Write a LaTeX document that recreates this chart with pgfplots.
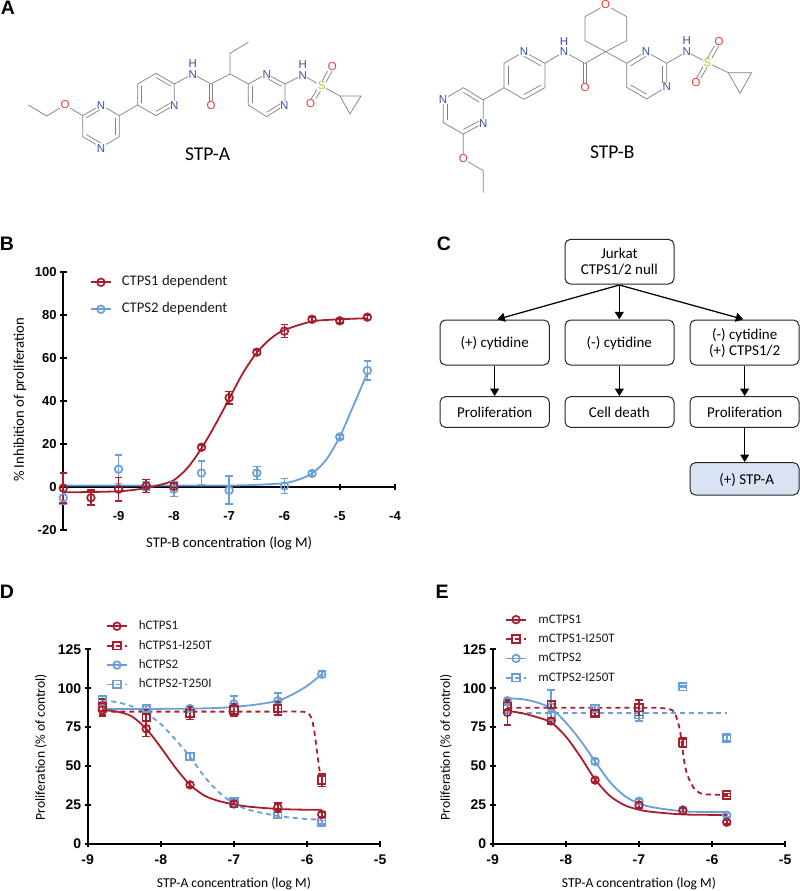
\documentclass[border=0pt]{standalone}
\usepackage{fontspec}
\setmainfont{Carlito}
\newfontfamily\arialf{Liberation Sans}
\usepackage{pgfplots}
\pgfplotsset{compat=1.18}
\usetikzlibrary{calc,arrows.meta}
\definecolor{cred}{HTML}{A81E2C}
\definecolor{cblue}{HTML}{6A9FD8}
\definecolor{bond}{HTML}{808080}
\definecolor{atomN}{HTML}{3A50A8}
\definecolor{atomO}{HTML}{F03838}
\definecolor{atomS}{HTML}{C4C030}
\definecolor{boxfill}{HTML}{DAE3F3}
\newcommand\fs[1]{\fontsize{#1}{#1}\selectfont}
\newcommand\inb[3]{\draw ($(#1)!.2!(#3)$) -- ($(#2)!.2!(#3)$);}
\newcommand\atom[3]{\node[text=#1,fill=white,inner sep=.5pt,font=\arialf\fs{11.5}] at (#2) {#3};}
\pgfplotsset{
  legend image code/.code={\draw[mark repeat=2,mark phase=2,#1] plot coordinates {(0pt,0pt) (10pt,0pt) (20pt,0pt)};},
  panel/.style={
    scale only axis, anchor=south west,
    axis line style={line width=#1, black, -},
    tick style={line width=#1, black},
    tick align=outside,
    major tick length=6pt,
    clip=false,
    /pgf/number format/assume math mode=true,
    legend cell align=left,
    ylabel style={anchor=center,rotate=0},
  },
  legbase/.style={draw=none,fill=none,anchor=north west,inner sep=0pt,
     nodes={inner sep=1pt,text=black!90,text height=10pt,text depth=3pt}},
  curve/.style={line width=1.8pt, no marks, smooth, forget plot},
  dsh/.style={dash pattern=on 5pt off 4pt},
  pts/.style={only marks, mark options={solid,line width=1.7pt,fill=none}, mark size=3.8pt, forget plot,
     error bars/.cd, y dir=both, y explicit, error bar style={line width=1.6pt}, error mark options={rotate=90,mark size=3.8pt,line width=1.6pt}},
  lc/.style={#1,line width=1.8pt,mark=o,mark size=3.8pt,mark options={solid,line width=1.7pt}},
  ls/.style={#1,line width=1.8pt,dash pattern=on 5pt off 4pt,mark=square,mark size=3.8pt,mark options={solid,line width=1.7pt}},
}
\begin{document}
\begin{tikzpicture}
\path[use as bounding box] (0pt,0pt) rectangle (800pt,-891pt);
% Panel letters
\foreach \t/\x/\y in {A/8/8,B/7/244,C/444/244,D/7/592,E/442/592}
  \node[font=\arialf\bfseries\fs{19.5}] at (\x pt,-\y pt) {\t};

%%% Structure A
\begin{scope}[x=0.33333pt,y=-0.33333pt,draw=bond,line width=.7pt]
\draw (85,315)--(140,348)--(195,315)--(248,347)--(303,315)--(358,347)--(358,410)--(303,442)--(248,410)--(248,347);
\inb{248,347}{303,315}{303,378}\inb{358,347}{358,410}{303,378}\inb{303,442}{248,410}{303,378}
\draw (358,347)--(413,315)--(413,252)--(468,220)--(523,252)--(523,315)--(468,347)--(413,315);
\inb{413,315}{413,252}{468,283}\inb{468,220}{523,252}{468,283}\inb{523,315}{468,347}{468,283}
\draw (523,252)--(578,222)--(633,252)--(690,222)--(690,160)--(745,127);
\draw (628,252)--(628,318) (638,252)--(638,318);
\draw (690,222)--(745,252)--(800,222)--(855,252)--(855,315)--(800,350)--(745,315)--(745,252);
\inb{745,315}{745,252}{800,285}\inb{800,222}{855,252}{800,285}\inb{855,315}{800,350}{800,285}
\draw (855,252)--(908,225)--(965,258)--(1020,288)--(1083,288)--(1050,342)--(1020,288);
\draw (961,253)--(992,197) (971,259)--(1002,203);
\draw (959,254)--(927,308) (969,260)--(937,314);
\atom{atomO}{195,315}{O}\atom{atomN}{303,318}{N}\atom{atomN}{303,445}{N}\atom{atomN}{523,317}{N}
\atom{atomN}{578,225}{N}\atom{atomN}{578,192}{H}\atom{atomO}{633,318}{O}
\atom{atomN}{800,223}{N}\atom{atomN}{853,318}{N}\atom{atomN}{908,226}{N}\atom{atomN}{908,193}{H}
\atom{atomS}{965,258}{S}\atom{atomO}{997,200}{O}\atom{atomO}{932,310}{O}
\node[font=\fs{19.5},text=black] at (623,462) {STP-A};
\end{scope}

%%% Structure B
\begin{scope}[xshift=400pt,x=0.33333pt,y=-0.33333pt,draw=bond,line width=.7pt]
\draw (250,578)--(250,512)--(190,477)--(190,402)--(250,370)--(250,300)--(190,263)--(130,298)--(130,368)--(190,402);
\inb{130,298}{130,368}{190,333}\inb{190,402}{250,370}{190,333}\inb{250,300}{190,263}{190,333}
\draw (250,300)--(312,263)--(312,190)--(372,155)--(435,190)--(435,263)--(372,298)--(312,263);
\inb{312,263}{312,190}{372,226}\inb{372,155}{435,190}{372,226}\inb{435,263}{372,298}{372,226}
\draw (435,190)--(492,155)--(555,190)--(617,155)--(555,122)--(555,50)--(617,15)--(680,50)--(680,122)--(617,155)--(680,190);
\draw (550,190)--(550,260) (560,190)--(560,260);
\draw (680,190)--(738,155)--(800,190)--(800,260)--(740,297)--(680,262)--(680,190);
\inb{680,190}{738,155}{740,226}\inb{800,190}{800,260}{740,226}\inb{740,297}{680,262}{740,226}
\draw (800,190)--(860,155)--(922,188)--(985,218)--(1055,218)--(1020,280)--(985,218);
\draw (917,184)--(952,122) (927,190)--(962,128);
\draw (917,186)--(883,245) (927,192)--(893,251);
\atom{atomO}{190,475}{O}\atom{atomN}{250,371}{N}\atom{atomN}{129,298}{N}\atom{atomN}{372,156}{N}
\atom{atomN}{492,155}{N}\atom{atomN}{492,125}{H}\atom{atomO}{555,262}{O}\atom{atomO}{617,15}{O}
\atom{atomN}{738,156}{N}\atom{atomN}{800,261}{N}\atom{atomN}{860,154}{N}\atom{atomN}{860,122}{H}
\atom{atomS}{922,188}{S}\atom{atomO}{957,125}{O}\atom{atomO}{888,248}{O}
\node[font=\fs{19.5},text=black] at (637,458) {STP-B};
\end{scope}

%%% Panel C flowchart
\begin{scope}[shift={(420pt,-230pt)},x=0.33333pt,y=-0.33333pt]
\tikzset{bx/.style={draw=black!85,line width=1pt,rounded corners=5.5pt},
  tx/.style={font=\fs{15},align=center,text=black},
  ar/.style={line width=1.25pt,-{Triangle[length=7.5pt,width=9pt]}}}
\draw[bx] (435,28) rectangle (762,162);
\node[tx,align=center] at (598,96) {Jurkat\\[1pt]CTPS1/2 null};
\draw[bx] (60,270) rectangle (388,405);  \node[tx] at (224,339) {(+) cytidine};
\draw[bx] (435,270) rectangle (762,405); \node[tx] at (598,339) {(-) cytidine};
\draw[bx] (810,270) rectangle (1137,405);\node[tx] at (974,339) {(-) cytidine\\[1pt](+) CTPS1/2};
\draw[bx] (60,500) rectangle (388,592);  \node[tx] at (224,547) {Proliferation};
\draw[bx] (435,500) rectangle (762,592); \node[tx] at (598,547) {Cell death};
\draw[bx] (810,500) rectangle (1137,592);\node[tx] at (974,547) {Proliferation};
\draw[bx,fill=boxfill] (810,698) rectangle (1137,795); \node[tx] at (980,749) {(+) STP-A};
\draw[ar] (598,165)--(232,268);
\draw[ar] (598,165)--(598,268);
\draw[ar] (598,165)--(970,268);
\draw[ar] (224,407)--(224,498);
\draw[ar] (598,407)--(598,498);
\draw[ar] (974,407)--(974,498);
\draw[ar] (974,594)--(974,696);
\end{scope}

%%% Panel B
\begin{axis}[panel=1.7pt, at={(63.3pt,-530pt)}, width=331.7pt, height=258pt,
  xmin=-10,xmax=-4,ymin=-20,ymax=100,
  axis x line=middle, axis y line=left, axis line style={-},
  major tick length=6.5pt,
  xtick={-9,-8,-7,-6,-5,-4}, xticklabels={-9,-8,-7,-6,-5,-4},
  ytick={-20,0,20,40,60,80,100},
  x tick label style={font=\arialf\bfseries\fs{13},yshift=-18pt,fill=none},
  y tick label style={font=\arialf\bfseries\fs{13}},
  xlabel={STP-B concentration (log M)}, ylabel={\% Inhibition of proliferation},
  xlabel style={font=\fs{14.7},at={(axis description cs:0.5,-0.05)},anchor=center},
  ylabel style={font=\fs{14.7},at={(axis description cs:-0.131,0.504)},anchor=center,rotate=0},
  legend style={legbase,at={(axis description cs:0.08,0.99)},row sep=12pt,column sep=9pt,font=\fs{14.7}},
  legend entries={CTPS1 dependent,CTPS2 dependent},
]
\addlegendimage{lc=cred}
\addlegendimage{lc=cblue}
\addplot[cblue,curve] coordinates {(-10,0.7)(-9,0.7)(-8,0.7)(-7,0.7)(-6.5,1)(-6,1.8)(-5.75,3.4)(-5.5,6.3)(-5.25,12.5)(-5,23.3)(-4.75,38)(-4.5,53)};
\addplot[cred,curve] coordinates {(-10,-2.5)(-9,-2)(-8.5,-0.5)(-8.25,1)(-8,3.2)(-7.75,9)(-7.5,18)(-7.25,29)(-7,41)(-6.75,53)(-6.5,62.5)(-6.25,69)(-6,73)(-5.5,77)(-5,78)(-4.5,78.5)};
\addplot[cblue,mark=o,pts] coordinates {(-10,-5)+-(0,3)(-9,8.3)+-(0,6.7)(-8.5,0.5)+-(0,2)(-8,-1)+-(0,3.5)(-7.5,6.5)+-(0,5.5)(-7,-1.5)+-(0,6.5)(-6.5,6.5)+-(0,3)(-6,0.5)+-(0,3.5)(-5.5,6.3)+-(0,1)(-5,23.3)+-(0,1)(-4.5,54.2)+-(0,4.5)};
\addplot[cred,mark=o,pts] coordinates {(-10,-0.5)+-(0,7)(-9.5,-5)+-(0,3.5)(-9,-1)+-(0,5.5)(-8.5,0.5)+-(0,3)(-8,0.3)+-(0,1.5)(-7.5,18.5)+-(0,1)(-7,41.5)+-(0,3)(-6.5,62.7)+-(0,1)(-6,72.5)+-(0,3)(-5.5,78)+-(0,1)(-5,77.3)+-(0,1)(-4.5,79)+-(0,1)};
\end{axis}

%%% Panel D
\begin{axis}[panel=2.1pt, at={(87.7pt,-844pt)}, width=292.5pt, height=194.7pt,
  xmin=-9,xmax=-5,ymin=0,ymax=125,
  axis x line=bottom, axis y line=left, axis line style={-},
  xtick={-9,-8,-7,-6,-5}, xticklabels={-9,-8,-7,-6,-5},
  ytick={0,25,50,75,100,125},
  x tick label style={font=\arialf\bfseries\fs{14},yshift=-4pt},
  y tick label style={font=\arialf\bfseries\fs{14}},
  xlabel={STP-A concentration (log M)}, ylabel={Proliferation (\% of control)},
  xlabel style={font=\fs{13.6},at={(axis description cs:0.5,-0.205)},anchor=center},
  ylabel style={font=\fs{13.6},at={(axis description cs:-0.16,0.498)},anchor=center,rotate=0},
  legend style={legbase,at={(axis description cs:0.062,1.158)},row sep=4.4pt,column sep=10pt,font=\fs{13}},
  legend entries={hCTPS1,hCTPS1-I250T,hCTPS2,hCTPS2-T250I},
]
\addlegendimage{lc=cred}
\addlegendimage{ls=cred}
\addlegendimage{lc=cblue}
\addlegendimage{ls=cblue}
\addplot[cblue,curve] coordinates {(-8.8,86.7)(-8.2,86.7)(-7.5,87)(-7.2,87.4)(-7,88)(-6.7,89.5)(-6.4,92)(-6.2,96)(-6,101.5)(-5.8,109)};
\addplot[cblue,curve,dsh] coordinates {(-8.8,92.5)(-8.6,91)(-8.4,88.5)(-8.2,84)(-8,77)(-7.8,67)(-7.6,56)(-7.4,43)(-7.2,33)(-7,26)(-6.8,22)(-6.4,18)(-6,16)(-5.8,15.8)};
\addplot[cblue,mark=o,pts] coordinates {(-8.8,87)+-(0,2)(-8.2,87)+-(0,2)(-7.6,87)+-(0,1)(-7,90)+-(0,5)(-6.4,92)+-(0,5)(-5.8,109)+-(0,2)};
\addplot[cblue,mark=square,pts] coordinates {(-8.8,93)+-(0,2)(-8.2,87)+-(0,2)(-7.6,56)+-(0,2)(-7,27)+-(0,2)(-6.4,19)+-(0,2)(-5.8,14)+-(0,1)};
\addplot[cred,curve] coordinates {(-8.8,86)(-8.6,85)(-8.4,82)(-8.2,74)(-8,62)(-7.8,49)(-7.6,38)(-7.4,31)(-7.2,27.5)(-7,25.5)(-6.8,24)(-6.4,22.5)(-6,22)(-5.8,22)};
\addplot[cred,curve,dsh] coordinates {(-8.8,85)(-8,85)(-7,85)(-6.4,85)(-6.1,85)(-6.0,84.3)(-5.94,81)(-5.9,72)(-5.86,58)(-5.82,44)};
\addplot[cred,mark=o,pts] coordinates {(-8.8,86)+-(0,4)(-8.2,74)+-(0,5)(-7.6,38)+-(0,1.5)(-7,25.7)+-(0,2)(-6.4,23.5)+-(0,3)(-5.8,19)+-(0,1.5)};
\addplot[cred,mark=square,pts] coordinates {(-8.8,88)+-(0,5)(-8.2,81)+-(0,5)(-7.6,84)+-(0,4)(-7,86)+-(0,4)(-6.4,87)+-(0,4)(-5.8,41)+-(0,4)};
\end{axis}

%%% Panel E
\begin{axis}[panel=2.1pt, at={(492.7pt,-844pt)}, width=292.5pt, height=194.7pt,
  xmin=-9,xmax=-5,ymin=0,ymax=125,
  axis x line=bottom, axis y line=left, axis line style={-},
  xtick={-9,-8,-7,-6,-5}, xticklabels={-9,-8,-7,-6,-5},
  ytick={0,25,50,75,100,125},
  x tick label style={font=\arialf\bfseries\fs{14},yshift=-4pt},
  y tick label style={font=\arialf\bfseries\fs{14}},
  xlabel={STP-A concentration (log M)}, ylabel={Proliferation (\% of control)},
  xlabel style={font=\fs{13.6},at={(axis description cs:0.5,-0.205)},anchor=center},
  ylabel style={font=\fs{13.6},at={(axis description cs:-0.16,0.498)},anchor=center,rotate=0},
  legend style={legbase,at={(axis description cs:0.042,1.192)},row sep=4.4pt,column sep=10.5pt,font=\fs{13}},
  legend entries={mCTPS1,mCTPS1-I250T,mCTPS2,mCTPS2-I250T},
]
\addlegendimage{lc=cred}
\addlegendimage{ls=cred}
\addlegendimage{lc=cblue}
\addlegendimage{ls=cblue}
\addplot[cblue,curve] coordinates {(-8.8,93.5)(-8.6,93)(-8.4,91)(-8.2,87)(-8,78)(-7.8,66.5)(-7.6,53)(-7.4,40)(-7.2,31)(-7,26)(-6.8,23.5)(-6.4,21)(-6,20.5)(-5.8,20.5)};
\addplot[cblue,dsh,line width=1.8pt,no marks,forget plot] coordinates {(-8.65,84)(-8,84)(-7,84)(-6,84)(-5.8,84)};
\addplot[cblue,mark=o,pts] coordinates {(-8.8,92)+-(0,1.5)(-8.2,88)+-(0,11)(-7.6,53)+-(0,1.5)(-7,27.5)+-(0,1.5)(-6.4,22)+-(0,1.5)(-5.8,18.5)+-(0,1)};
\addplot[cblue,mark=square,pts] coordinates {(-8.8,87)+-(0,3)(-8.2,82)+-(0,3)(-7.6,87)+-(0,2)(-7,83)+-(0,4)(-6.4,101)+-(0,0.5)(-5.8,68)+-(0,2)};
\addplot[cred,curve] coordinates {(-8.8,85.5)(-8.6,84)(-8.4,81.5)(-8.2,78)(-8,69)(-7.8,56)(-7.6,41.5)(-7.4,31)(-7.2,25)(-7,22)(-6.8,20.5)(-6.4,19)(-6,18.7)(-5.8,18.7)};
\addplot[cred,curve,dsh] coordinates {(-8.8,87.5)(-8,87.5)(-7,87.5)(-6.7,87.3)(-6.55,86)(-6.5,83)(-6.44,73)(-6.37,50)(-6.3,40)(-6.22,34.5)(-6.11,32)(-5.8,31.5)};
\addplot[cred,mark=o,pts] coordinates {(-8.8,84.5)+-(0,8)(-8.2,79)+-(0,2)(-7.6,41)+-(0,1)(-7,25)+-(0,2)(-6.4,21.5)+-(0,1.5)(-5.8,14)+-(0,1)};
\addplot[cred,mark=square,pts] coordinates {(-8.8,88.5)+-(0,3)(-8.2,89.5)+-(0,2)(-7.6,84)+-(0,2)(-7,87.5)+-(0,5)(-6.4,65)+-(0,3)(-5.8,31.5)+-(0,1)};
\end{axis}
\end{tikzpicture}
\end{document}
